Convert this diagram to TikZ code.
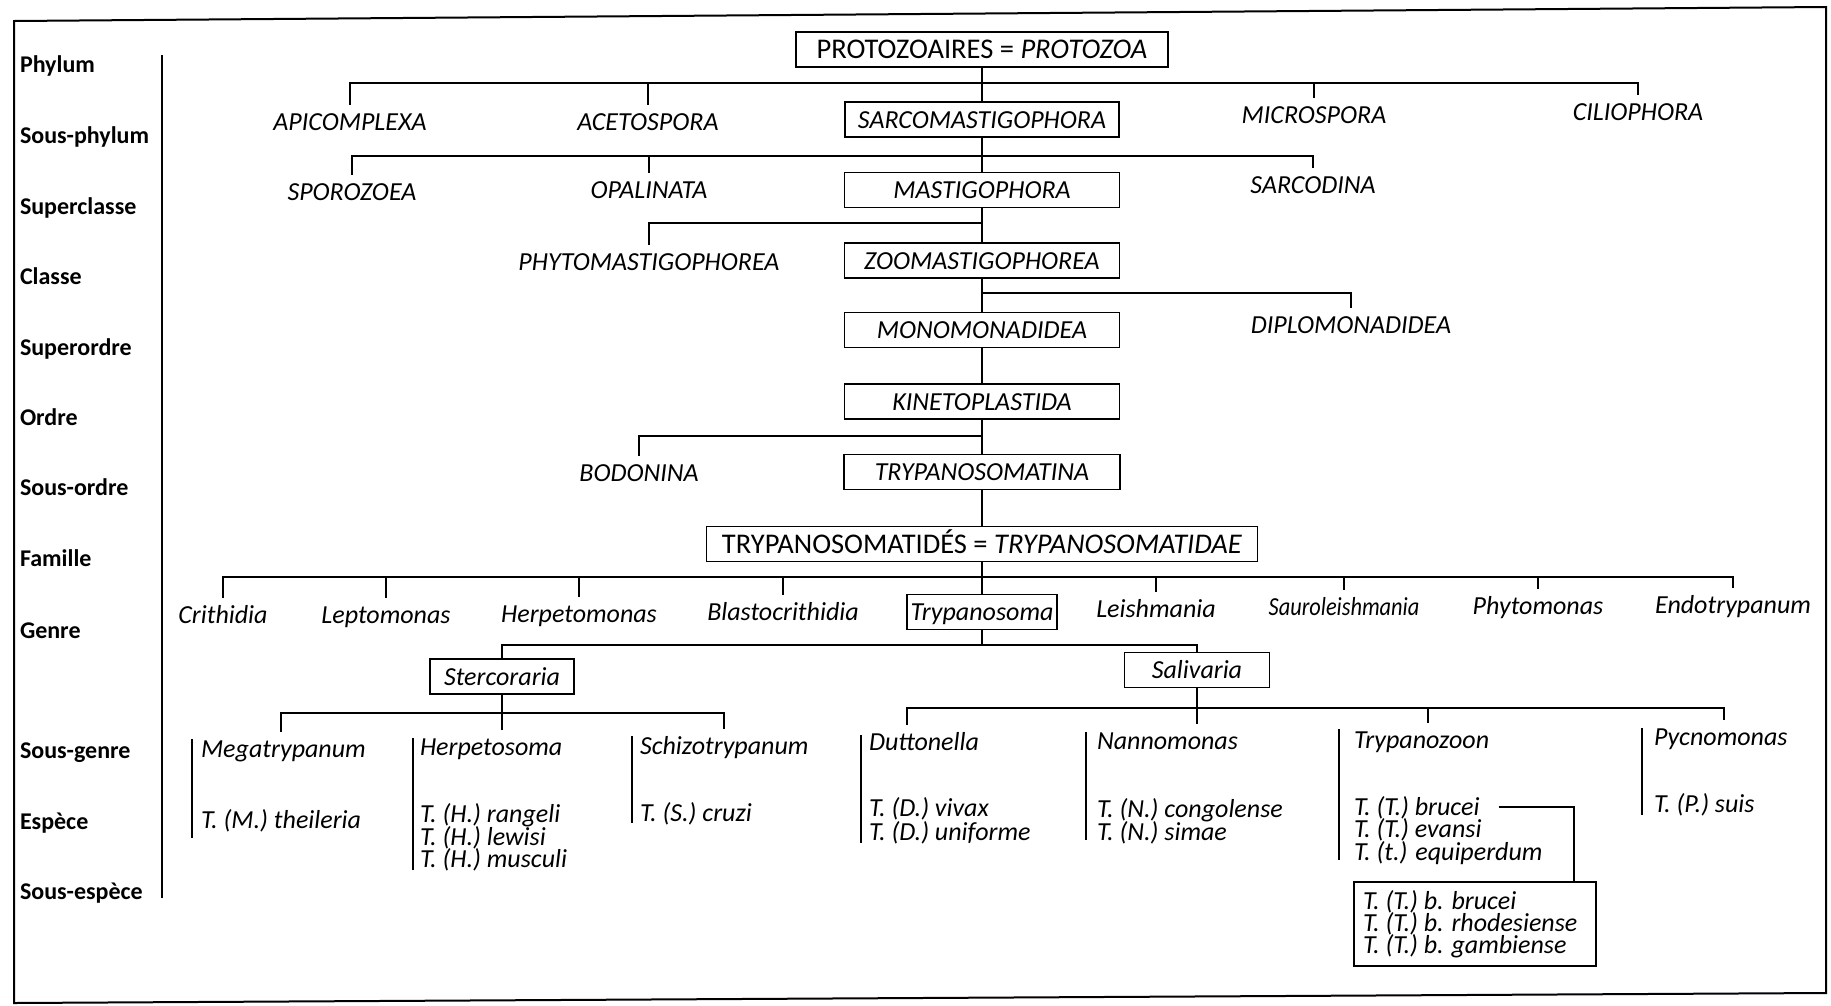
\documentclass[tikz,border=0pt]{standalone}
\usepackage{fontspec}
\usepackage{graphicx}
\setmainfont{Carlito}
\usetikzlibrary{calc}
\begin{document}
\begin{tikzpicture}[x=1pt,y=-1pt, line width=1.8pt,
  every node/.style={inner sep=0pt, outer sep=0pt},
  lab/.style={font=\fontsize{26}{28}\selectfont\itshape, text height=17pt, text depth=0pt, inner ysep=9pt, inner xsep=0pt},
  labw/.style={lab, anchor=west},
  tbox/.style={draw, line width=1.8pt, font=\fontsize{26}{28}\selectfont\itshape, text height=17pt, text depth=0pt, inner ysep=9pt, inner xsep=0pt, minimum height=35pt},
  hbox/.style={tbox, font=\fontsize{28.5}{30}\selectfont, text height=18pt, inner ysep=8.5pt},
  rank/.style={anchor=west, font=\fontsize{24}{26}\selectfont\bfseries, text height=16pt, text depth=0pt}
]
\useasboundingbox (0,0) rectangle (1831,1005);
\fill[white] (0,0) rectangle (1831,1005);
% frame
\draw[line width=2pt] (14,21) -- (1826,7) -- (1826,993) -- (14,1003) -- cycle;

% rank labels
\node[rank] (r1) at (20,64) {Phylum};
\node[rank] (r2) at (20,135) {Sous-phylum};
\node[rank] (r3) at (20,206) {Superclasse};
\node[rank] (r4) at (20,276) {Classe};
\node[rank] (r5) at (20,347) {Superordre};
\node[rank] (r6) at (20,417) {Ordre};
\node[rank] (r7) at (20,487) {Sous-ordre};
\node[rank] (r8) at (20,558) {Famille};
\node[rank] (r9) at (20,630) {Genre};
\node[rank] (r10) at (20,750) {Sous-genre};
\node[rank] (r11) at (20,821) {Espèce};
\node[rank] (r12) at (20,891) {Sous-espèce};
\draw (162,55) -- (162,898);

% Phylum
\node[hbox, minimum width=372pt] (protozoa) at (982,49.5) {PROTOZOAIRES = \textit{PROTOZOA}};

% Sous-phylum
\node[lab] (apicomplexa) at (350,122) {APICOMPLEXA};
\node[lab] (acetospora) at (648,122) {ACETOSPORA};
\node[tbox, minimum width=274pt] (sarco) at (982,119.5) {SARCOMASTIGOPHORA};
\node[lab] (microspora) at (1314,115) {MICROSPORA};
\node[lab] (ciliophora) at (1638,112) {CILIOPHORA};
\coordinate (j1) at (982,83);
\draw (protozoa.south) -- (sarco.north);
\draw (apicomplexa.north) |- (j1) -| (ciliophora.north);
\draw (acetospora.north) -- (acetospora.north |- j1);
\draw (microspora.north) -- (microspora.north |- j1);

% Superclasse
\node[lab] (sporozoea) at (352,192) {SPOROZOEA};
\node[lab] (opalinata) at (649,190) {OPALINATA};
\node[tbox, minimum width=275pt] (masti) at (982,190) {MASTIGOPHORA};
\node[lab] (sarcodina) at (1313,185) {SARCODINA};
\coordinate (j2) at (982,156);
\draw (sarco.south) -- (masti.north);
\draw (sporozoea.north) |- (j2) -| (sarcodina.north);
\draw (opalinata.north) -- (opalinata.north |- j2);

% Classe
\node[lab] (phyto) at (649,262) {PHYTOMASTIGOPHOREA};
\node[tbox, minimum width=275pt] (zoo) at (982,260.5) {ZOOMASTIGOPHOREA};
\coordinate (j3) at (982,223);
\draw (masti.south) -- (zoo.north);
\draw (phyto.north) |- (j3);

% Superordre
\node[lab] (diplo) at (1351,325) {DIPLOMONADIDEA};
\node[tbox, minimum width=275pt] (mono) at (982,330) {MONOMONADIDEA};
\coordinate (j4) at (982,293);
\draw (zoo.south) -- (mono.north);
\draw (j4) -| (diplo.north);

% Ordre
\node[tbox, minimum width=275pt] (kineto) at (982,401.5) {KINETOPLASTIDA};
\draw (mono.south) -- (kineto.north);

% Sous-ordre
\node[lab] (bodonina) at (639,473) {BODONINA};
\node[tbox, minimum width=276pt] (tmatina) at (982,472) {TRYPANOSOMATINA};
\coordinate (j6) at (982,436);
\draw (kineto.south) -- (tmatina.north);
\draw (bodonina.north) |- (j6);

% Famille
\node[hbox, minimum width=551pt] (family) at (982,544) {TRYPANOSOMATIDÉS = \textit{TRYPANOSOMATIDAE}};
\draw (tmatina.south) -- (family.north);

% Genre
\node[lab] (crithidia) at (223,615) {Crithidia};
\node[lab] (leptomonas) at (386,615) {Leptomonas};
\node[lab] (herpetomonas) at (579,614) {Herpetomonas};
\node[lab] (blasto) at (783,612) {Blastocrithidia};
\node[tbox, minimum width=150pt] (trypanosoma) at (982,612) {Trypanosoma};
\node[lab] (leishmania) at (1156,609) {Leishmania};
\node[lab] (sauro) at (1344,607) {\scalebox{0.86}[1]{Sauroleishmania}};
\node[lab] (phytomonas) at (1538,606) {Phytomonas};
\node[lab] (endo) at (1733,605) {Endotrypanum};
\coordinate (j8) at (982,577);
\draw (family.south) -- (trypanosoma.north);
\draw (crithidia.north) |- (j8) -| (endo.north);
\foreach \n in {leptomonas,herpetomonas,blasto,leishmania,sauro,phytomonas}
  \draw (\n.north) -- (\n.north |- j8);

% Stercoraria / Salivaria
\node[tbox, minimum width=144pt] (stercoraria) at (502,676.5) {Stercoraria};
\node[tbox, minimum width=145pt] (salivaria) at (1197,670) {Salivaria};
\coordinate (j9) at (982,645);
\draw (trypanosoma.south) -- (trypanosoma.south |- j9);
\draw (stercoraria.north) |- (j9) -| (salivaria.north);

% Sous-genre (Stercoraria)
\node[labw] (mega) at (201,749) {Megatrypanum};
\node[labw] (herpeto) at (420,747) {Herpetosoma};
\node[labw] (schizo) at (640,746) {Schizotrypanum};
\coordinate (j10) at (502,713);
\draw (stercoraria.south) -- (stercoraria.south |- herpeto.north);
\draw ($(mega.north west)+(80,0)$) |- (j10) -| ($(schizo.north west)+(84,0)$);

% Sous-genre (Salivaria)
\node[labw] (dutto) at (869,742) {Duttonella};
\node[labw] (nanno) at (1097,741) {Nannomonas};
\node[labw] (trypanozoon) at (1354,740) {Trypanozoon};
\node[labw] (pycno) at (1654,737) {Pycnomonas};
\coordinate (j11) at (1197,708);
\coordinate (tzd) at ($(trypanozoon.north west)+(74,0)$);
\draw (salivaria.south) -- (salivaria.south |- nanno.north);
\draw ($(dutto.north west)+(38,0)$) |- (j11) -| ($(pycno.north west)+(70,0)$);
\draw (tzd) -- (tzd |- j11);

% Especes
\node[labw] (theileria) at (201,820) {T. (M.) theileria};
\node[labw] (rangeli) at (420,814) {T. (H.) rangeli};
\node[labw] (lewisi) at (420,837) {T. (H.) lewisi};
\node[labw] (musculi) at (420,859) {T. (H.) musculi};
\node[labw] (cruzi) at (640,813) {T. (S.) cruzi};
\node[labw] (vivax) at (869,808) {T. (D.) vivax};
\node[labw] (uniforme) at (869,832) {T. (D.) uniforme};
\node[labw] (congolense) at (1097,809) {T. (N.) congolense};
\node[labw] (simae) at (1097,832) {T. (N.) simae};
\node[labw] (tbrucei) at (1354,807) {T. (T.) brucei};
\node[labw] (evansi) at (1354,829) {T. (T.) evansi};
\node[labw] (equiperdum) at (1354,852) {T. (t.) equiperdum};
\node[labw] (suis) at (1654,804) {T. (P.) suis};

% bracket lines
\draw ($(mega.west)+(-9,-10)$) -- ($(theileria.west)+(-9,18)$);
\draw ($(herpeto.west)+(-7,-9)$) -- ($(musculi.west)+(-7,11)$);
\draw ($(schizo.west)+(-8,-10)$) -- ($(cruzi.west)+(-8,10)$);
\draw ($(dutto.west)+(-8,-7)$) -- ($(uniforme.west)+(-8,11)$);
\draw ($(nanno.west)+(-11,-9)$) -- ($(simae.west)+(-11,8)$);
\draw ($(trypanozoon.west)+(-15,-11)$) -- ($(equiperdum.west)+(-15,8)$);
\draw ($(pycno.west)+(-12,-9)$) -- ($(suis.west)+(-12,11)$);

% Sous-especes
\node[draw, line width=1.8pt, minimum width=242pt, minimum height=84pt] (ssbox) at (1475,924) {};
\node[labw] (bbrucei) at (1363,901) {T. (T.) b. brucei};
\node[labw] (rhod) at (1363,923) {T. (T.) b. rhodesiense};
\node[labw] (gamb) at (1363,945) {T. (T.) b. gambiense};
\draw ($(tbrucei.east)+(19,0)$) -| ($(ssbox.north east)+(-22,0)$);
\end{tikzpicture}
\end{document}
